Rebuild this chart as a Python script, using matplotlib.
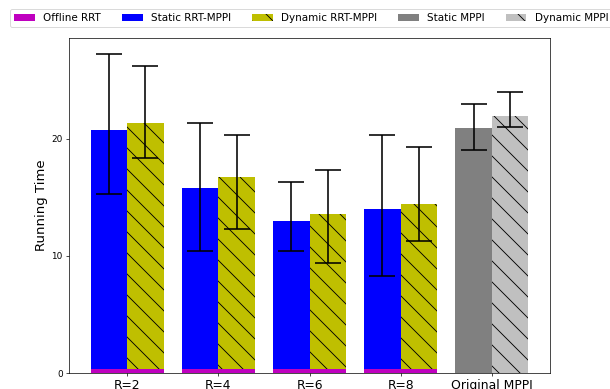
import matplotlib
matplotlib.use("Agg")
import matplotlib.pyplot as plt
import numpy as np

groups = ["R=2", "R=4", "R=6", "R=8", "Original MPPI"]

offline_rrt = [0.35, 0.35, 0.35, 0.35]

static_rrt = [20.7, 15.8, 13.0, 14.0]
static_rrt_lo = [15.3, 10.4, 10.4, 8.3]
static_rrt_hi = [27.2, 21.3, 16.3, 20.3]

dynamic_rrt = [21.3, 16.7, 13.6, 14.4]
dynamic_rrt_lo = [18.3, 12.3, 9.4, 11.3]
dynamic_rrt_hi = [26.2, 20.3, 17.3, 19.3]

static_mppi = 20.9
static_mppi_lo, static_mppi_hi = 19.0, 22.9
dynamic_mppi = 21.9
dynamic_mppi_lo, dynamic_mppi_hi = 21.0, 24.0


def asym(vals, lo, hi):
    vals = np.atleast_1d(vals)
    return [vals - np.atleast_1d(lo), np.atleast_1d(hi) - vals]


w = 0.4
x = np.arange(4)
xm = 4

# render at low dpi so hatch spacing / line widths look like the downscaled original
DPI = 63.5
fig = plt.figure(figsize=(610 / DPI, 389 / DPI), dpi=DPI)
ax = fig.add_axes([0.113, 0.041, 0.789, 0.861])

ekw = dict(capsize=15, error_kw=dict(ecolor="black", elinewidth=1.8, capthick=1.8))
ax.bar(x, offline_rrt, 2 * w, color="m", label="Offline RRT", zorder=3)
ax.bar(x - w / 2, static_rrt, w, color="blue", label="Static RRT-MPPI",
       yerr=asym(static_rrt, static_rrt_lo, static_rrt_hi), **ekw)
ax.bar(x + w / 2, dynamic_rrt, w, color="y", hatch="\\", label="Dynamic RRT-MPPI",
       yerr=asym(dynamic_rrt, dynamic_rrt_lo, dynamic_rrt_hi), **ekw)
ax.bar(xm - w / 2, static_mppi, w, color="gray", label="Static MPPI",
       yerr=asym(static_mppi, static_mppi_lo, static_mppi_hi), **ekw)
ax.bar(xm + w / 2, dynamic_mppi, w, color="silver", hatch="\\", label="Dynamic MPPI",
       yerr=asym(dynamic_mppi, dynamic_mppi_lo, dynamic_mppi_hi), **ekw)

ax.set_xticks(np.arange(5))
ax.set_xticklabels(groups, fontsize=14)
ax.tick_params(axis="y", labelsize=10)
ax.set_ylabel("Running Time", fontsize=15)
ax.set_yticks([0, 10, 20])

ax.legend(loc="upper left", bbox_to_anchor=(10 / 610, 1 - 9 / 389),
          bbox_transform=fig.transFigure, borderaxespad=0, ncol=5, fontsize=11.8)

fig.savefig("out.png", dpi=DPI)
